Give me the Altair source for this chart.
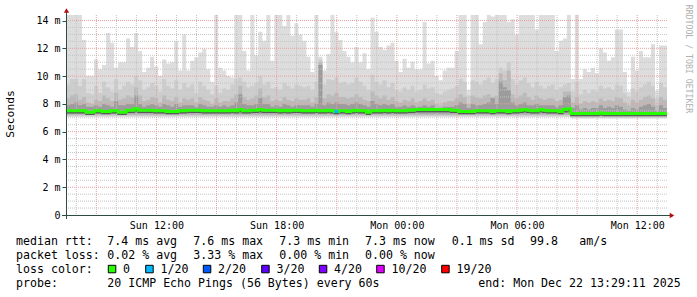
import altair as alt
import pandas as pd

# ---------------- data ----------------
STEP_H = 0.2  # hours per column (12 minutes)
# top of the lightest smoke (max ping) per column, ms
top = [14.4, 14.4, 14.4, 14.4, 12.6, 10.0, 10.0, 11.2, 10.5, 10.8,
       13.1, 12.4, 10.6, 11.0, 11.0, 12.7, 12.1, 13.1, 11.8, 10.3,
       10.6, 11.4, 10.7, 10.0, 11.2, 10.9, 11.0, 12.55, 10.4, 13.0,
       10.4, 11.1, 11.35, 11.7, 11.95, 10.5, 9.6, 14.4, 10.6, 10.4,
       10.0, 9.9, 14.4, 14.4, 11.8, 10.4, 14.4, 11.5, 13.2, 12.55,
       14.4, 11.1, 14.4, 14.4, 13.6, 14.4, 12.9, 13.8, 13.0, 12.55,
       11.4, 10.3, 14.4, 11.4, 10.4, 11.6, 14.4, 13.15, 12.6, 11.8,
       11.4, 11.0, 12.1, 11.0, 11.65, 10.5, 14.2, 13.2, 12.1, 11.9,
       12.2, 12.4, 11.1, 10.3, 11.25, 10.6, 11.05, 10.5, 10.5, 13.9,
       10.9, 11.1, 10.0, 9.7, 10.4, 10.6, 10.6, 11.8, 14.4, 14.4,
       9.0, 14.4, 14.4, 12.3, 13.9, 14.4, 14.3, 14.4, 14.4, 14.4,
       13.9, 14.1, 13.0, 14.4, 14.4, 14.4, 14.4, 13.35, 14.4, 14.4,
       14.4, 14.4, 11.8, 12.55, 12.7, 14.4, 9.8, 14.4, 9.8, 10.5,
       10.3, 10.6, 10.2, 12.0, 11.7, 11.1, 11.35, 13.35, 13.35, 10.3,
       8.9, 11.4, 10.4, 11.8, 11.35, 11.35, 12.3, 8.95, 12.2, 12.2]
# second smoke band
mid = [9.4, 9.8, 9.8, 9.3, 9.8, 8.8, 8.7, 9.3, 8.8, 9.6,
       9.2, 8.9, 9.8, 9.0, 9.3, 9.6, 9.4, 10.0, 9.7, 9.0,
       9.2, 9.5, 9.3, 8.9, 9.8, 9.3, 9.1, 9.7, 9.0, 9.5,
       9.2, 9.4, 8.8, 9.6, 9.3, 9.0, 8.7, 9.3, 8.8, 9.1,
       9.0, 9.4, 9.8, 9.9, 9.6, 9.2, 9.3, 9.5, 10.0, 9.4,
       9.6, 9.1, 9.2, 9.0, 9.5, 9.3, 9.1, 9.4, 9.3, 9.2,
       9.3, 9.0, 9.6, 11.2, 9.4, 9.8, 9.7, 9.9, 9.5, 9.6,
       9.4, 9.5, 9.9, 9.6, 9.3, 9.0, 10.1, 9.6, 9.4, 9.7,
       9.2, 9.5, 9.0, 8.9, 9.2, 9.0, 9.3, 8.9, 9.0, 9.4,
       9.1, 9.2, 8.8, 8.7, 8.9, 9.0, 9.1, 9.3, 9.8, 9.6,
       8.6, 9.7, 9.6, 9.4, 9.7, 9.9, 9.5, 9.8, 10.6, 10.4,
       11.0, 9.8, 9.4, 9.7, 9.9, 9.5, 9.2, 9.6, 9.3, 9.1,
       9.3, 9.4, 9.0, 9.2, 9.4, 9.5, 8.9, 9.6, 8.7, 9.0,
       8.8, 9.0, 8.9, 9.3, 9.1, 9.2, 9.0, 9.4, 9.3, 8.8,
       8.5, 9.1, 8.9, 9.2, 9.4, 9.6, 9.3, 8.4, 9.5, 9.2]
# third smoke band
mid2 = [8.4, 8.6, 8.7, 8.3, 8.5, 8.1, 8.0, 8.3, 8.2, 8.6,
        8.4, 8.2, 8.8, 8.3, 8.4, 8.6, 8.5, 9.2, 8.6, 8.2,
        8.3, 8.5, 8.4, 8.1, 8.6, 8.3, 8.2, 8.5, 8.1, 8.4,
        8.3, 8.4, 8.1, 8.5, 8.3, 8.2, 8.0, 8.4, 8.1, 8.2,
        8.2, 8.4, 8.7, 9.3, 8.5, 8.3, 8.4, 8.6, 9.1, 8.5,
        8.6, 8.2, 8.3, 8.2, 8.5, 8.3, 8.2, 8.4, 8.3, 8.3,
        8.4, 8.1, 8.5, 11.0, 8.4, 8.7, 8.6, 8.8, 8.5, 8.5,
        8.4, 8.5, 8.7, 8.5, 8.3, 8.2, 8.9, 8.6, 8.4, 8.6,
        8.3, 8.5, 8.2, 8.1, 8.3, 8.2, 8.4, 8.1, 8.2, 8.4,
        8.2, 8.3, 8.0, 7.9, 8.1, 8.2, 8.2, 8.4, 8.7, 8.5,
        8.0, 8.6, 8.5, 8.4, 8.6, 8.7, 8.5, 8.6, 10.2, 9.7,
        10.4, 8.7, 8.4, 8.6, 8.8, 8.5, 8.3, 8.6, 8.4, 8.3,
        8.4, 8.4, 8.2, 8.3, 8.9, 8.9, 8.1, 8.5, 8.0, 8.2,
        8.1, 8.2, 8.1, 8.4, 8.2, 8.3, 8.2, 8.5, 8.4, 8.1,
        7.9, 8.3, 8.1, 8.3, 8.5, 8.6, 8.4, 7.9, 8.5, 8.3]
# darkest smoke band
dark = [7.9, 8.0, 8.1, 7.9, 8.0, 7.8, 7.8, 7.9, 7.8, 8.0,
        7.9, 7.8, 8.2, 7.9, 7.9, 8.0, 8.0, 8.6, 8.0, 7.8,
        7.9, 8.0, 7.9, 7.8, 8.0, 7.9, 7.8, 8.0, 7.8, 7.9,
        7.9, 7.9, 7.8, 8.0, 7.9, 7.8, 7.8, 7.9, 7.8, 7.9,
        7.8, 7.9, 8.1, 8.7, 8.0, 7.9, 7.9, 8.0, 8.4, 8.0,
        8.0, 7.8, 7.9, 7.8, 8.0, 7.9, 7.8, 7.9, 7.9, 7.9,
        7.9, 7.8, 8.0, 10.8, 7.9, 8.1, 8.0, 8.1, 8.0, 8.0,
        7.9, 8.0, 8.1, 8.0, 7.9, 7.8, 8.2, 8.0, 7.9, 8.0,
        7.9, 8.0, 7.8, 7.8, 7.9, 7.8, 7.9, 7.8, 7.8, 7.9,
        7.8, 7.9, 7.7, 7.7, 7.8, 7.8, 7.8, 7.9, 8.1, 8.0,
        7.7, 8.0, 7.9, 7.9, 8.0, 8.1, 8.4, 8.0, 9.6, 9.2,
        9.0, 8.1, 7.9, 8.0, 8.1, 7.9, 7.9, 8.0, 7.9, 7.9,
        7.9, 7.9, 7.8, 7.9, 8.5, 8.6, 7.7, 7.9, 7.6, 7.7,
        7.6, 7.7, 7.7, 7.9, 7.7, 7.8, 7.7, 7.9, 7.8, 7.6,
        7.5, 7.7, 7.6, 7.8, 7.9, 8.0, 7.8, 7.5, 7.9, 7.7]
# bottoms of the smoke bands
low1 = [7.05] * 126 + [6.95] * 24
low2 = [7.12] * 126 + [7.02] * 24
low3 = [7.2] * 126 + [7.1] * 24
low4 = [7.3] * 126 + [7.18] * 24
# median rtt per column, ms
median = [7.5, 7.5, 7.5, 7.5, 7.5, 7.4, 7.4, 7.5, 7.5, 7.45,
          7.45, 7.5, 7.5, 7.4, 7.4, 7.55, 7.55, 7.65, 7.55, 7.55,
          7.55, 7.55, 7.5, 7.5, 7.5, 7.45, 7.45, 7.45, 7.5, 7.5,
          7.55, 7.55, 7.55, 7.55, 7.5, 7.5, 7.5, 7.5, 7.5, 7.5,
          7.5, 7.55, 7.5, 7.6, 7.5, 7.5, 7.55, 7.55, 7.6, 7.55,
          7.55, 7.55, 7.55, 7.5, 7.55, 7.5, 7.55, 7.55, 7.55, 7.5,
          7.5, 7.5, 7.55, 7.5, 7.5, 7.55, 7.5, 7.45, 7.5, 7.5,
          7.45, 7.5, 7.55, 7.5, 7.5, 7.4, 7.5, 7.5, 7.5, 7.55,
          7.5, 7.55, 7.5, 7.5, 7.5, 7.55, 7.55, 7.6, 7.6, 7.6,
          7.6, 7.6, 7.6, 7.6, 7.6, 7.6, 7.55, 7.55, 7.45, 7.45,
          7.45, 7.45, 7.5, 7.5, 7.5, 7.5, 7.45, 7.5, 7.5, 7.5,
          7.45, 7.5, 7.5, 7.55, 7.6, 7.55, 7.5, 7.5, 7.6, 7.55,
          7.5, 7.5, 7.5, 7.45, 7.6, 7.65, 7.3, 7.3, 7.3, 7.3,
          7.3, 7.3, 7.3, 7.35, 7.3, 7.3, 7.3, 7.3, 7.3, 7.3,
          7.3, 7.3, 7.3, 7.3, 7.3, 7.3, 7.3, 7.3, 7.3, 7.3]
# lost pings (of 20) per column
loss = [0] * 67 + [1] + [0] * 82

loss_steps = [0, 1, 2, 3, 4, 10, 19]
loss_labels = ["0", "1/20", "2/20", "3/20", "4/20", "10/20", "19/20"]
loss_colors = ["#26ff00", "#00b8ff", "#0059ff", "#5e00ff", "#7e00ff", "#dd00ff", "#ff0000"]

# time axis: 30 hours ending Mon 13:29:11, start Sun 07:29:11
SPAN_H = 30.0
FIRST_FULL_HOUR = (60 - 29 - 11 / 60) / 60   # offset of 08:00
FIRST_CLOCK_HOUR = 8
time_labels = ["Sun 12:00", "Sun 18:00", "Mon 00:00", "Mon 06:00", "Mon 12:00"]
time_label_clock = [12, 18, 24, 30, 36]
y_ticks = [0, 2, 4, 6, 8, 10, 12, 14]
Y_MAX = 14.4

line1 = [(16, "median rtt:"), (107.3, "7.4 ms avg"), (193.3, "7.6 ms max"), (279.3, "7.3 ms min"),
         (365, "7.3 ms now"), (451.7, "0.1 ms sd"), (530, "99.8"), (579.3, "am/s")]
line2 = [(16, "packet loss:"), (107.3, "0.02 % avg"), (193.3, "3.33 % max"), (279.3, "0.00 % min"),
         (365, "0.00 % now")]
line3 = [(16, "loss color:")]
line4 = [(16, "probe:"), (107.3, "20 ICMP Echo Pings (56 Bytes) every 60s"),
         (478.3, "end: Mon Dec 22 13:29:11 2025")]
legend_square_x = [108.3, 145.7, 203.3, 261.7, 319.3, 376.7, 441.7]

# ---------------- layout ----------------
PAD = {"left": 66, "top": 15, "right": 30, "bottom": 82}
W, H = 697 - PAD["left"] - PAD["right"], 297 - PAD["top"] - PAD["bottom"]
MONO = "DejaVu Sans Mono"
AXIS_COL = "#2c4d43"
GRID_MINOR = "#c4c4c4"
GRID_MAJOR = "#e8a0a0"


def px(x):
    return x - PAD["left"]


def py(y):
    return y - PAD["top"]


n = len(top)
t = [i * STEP_H for i in range(n)]
smoke = pd.DataFrame({
    "t": t + [SPAN_H],
    "top": top + [top[-1]], "mid": mid + [mid[-1]], "mid2": mid2 + [mid2[-1]],
    "dark": dark + [dark[-1]], "median": median + [median[-1]],
    "low1": low1 + [low1[-1]], "low2": low2 + [low2[-1]],
    "low3": low3 + [low3[-1]], "low4": low4 + [low4[-1]],
})


def loss_color(k):
    c = loss_colors[0]
    for s, col in zip(loss_steps, loss_colors):
        if k >= s:
            c = col
    return c


cols = pd.DataFrame({"t0": t, "t1": [v + STEP_H for v in t], "median": median,
                     "loss": loss, "lc": [loss_color(k) for k in loss]})

xs = alt.Scale(domain=[0, SPAN_H], nice=False, zero=False)
ys = alt.Scale(domain=[0, Y_MAX], nice=False, zero=True)

label_hours = [FIRST_FULL_HOUR + (c - FIRST_CLOCK_HOUR) for c in time_label_clock]
lab_expr = "[" + ",".join("'%s'" % s for s in time_labels) + "][round((datum.value - %f) / 6)]" % label_hours[0]
x_axis = alt.Axis(values=label_hours, labelExpr=lab_expr, domain=False, ticks=False, grid=False,
                  labelFont=MONO, labelFontSize=10, labelColor="#000", labelPadding=5,
                  labelOverlap=False, labelFlush=False, title=None)
y_axis = alt.Axis(values=y_ticks,
                  labelExpr="datum.value == 0 ? '0\u00a0\u00a0' : datum.value + '\u00a0m'",
                  domain=False, ticks=True, tickSize=4, tickColor=AXIS_COL, grid=False,
                  labelFont=MONO, labelFontSize=10, labelColor="#000", labelPadding=2, title=None)


def X(field):
    return alt.X(field, scale=xs, axis=x_axis)


def Y(field):
    return alt.Y(field, scale=ys, axis=y_axis)


def band(lo, hi, color):
    return alt.Chart(smoke).mark_area(interpolate="step-after", color=color, opacity=1).encode(
        x=X("t:Q"), y=Y(f"{hi}:Q"), y2=f"{lo}:Q")


layers = [
    band("low1", "top", "#dddddd"),
    band("low2", "mid", "#cdcdcd"),
    band("low3", "mid2", "#bababa"),
    band("low4", "dark", "#9c9c9c"),
]

# grid
hours = [FIRST_FULL_HOUR + k for k in range(int(SPAN_H)) if FIRST_FULL_HOUR + k < SPAN_H]
clock = [(FIRST_CLOCK_HOUR + k) for k in range(len(hours))]
vminor = pd.DataFrame({"h": [h for h, c in zip(hours, clock) if c % 3 != 0]})
vmajor = pd.DataFrame({"h": [h for h, c in zip(hours, clock) if c % 3 == 0]})
hvals = [k * 0.5 for k in range(1, int(Y_MAX / 0.5) + 1)]
hminor = pd.DataFrame({"v": [v for v in hvals if v % 2 != 0]})
hmajor = pd.DataFrame({"v": [v for v in hvals if v % 2 == 0]})


def vgrid(df, color):
    return alt.Chart(df).mark_rule(color=color, strokeDash=[1, 1], strokeWidth=1).encode(
        x=X("h:Q"), y=alt.value(0), y2=alt.value(H))


def hgrid(df, color):
    return alt.Chart(df).mark_rule(color=color, strokeDash=[1, 1], strokeWidth=1).encode(
        y=Y("v:Q"), x=alt.value(0), x2=alt.value(W))


layers += [vgrid(vminor, GRID_MINOR), hgrid(hminor, GRID_MINOR),
           vgrid(vmajor, GRID_MAJOR), hgrid(hmajor, GRID_MAJOR)]

# median line: dark shadow, green line, loss-coloured segments
layers.append(alt.Chart(smoke).mark_line(interpolate="step-after", color="#5a5a5a", strokeWidth=1.5,
                                         yOffset=2).encode(x=X("t:Q"), y=Y("median:Q")))
layers.append(alt.Chart(smoke).mark_line(interpolate="step-after", color=loss_colors[0], strokeWidth=3).encode(
    x=X("t:Q"), y=Y("median:Q")))
layers.append(alt.Chart(cols).transform_filter("datum.loss > 0").mark_rule(strokeWidth=3, strokeCap="butt").encode(
    x=X("t0:Q"), x2="t1:Q", y=Y("median:Q"), color=alt.Color("lc:N", scale=None)))

one = pd.DataFrame({"k": [0]})
# axis lines and arrows
layers.append(alt.Chart(one).mark_rule(color=AXIS_COL, strokeWidth=1).encode(
    x=alt.value(0.5), y=alt.value(py(12)), y2=alt.value(H + 4)))
layers.append(alt.Chart(one).mark_rule(color=AXIS_COL, strokeWidth=1).encode(
    x=alt.value(-4), x2=alt.value(px(670)), y=alt.value(H + 0.5)))
layers.append(alt.Chart(one).mark_point(shape="triangle-up", filled=True, size=28, color="#b01010", opacity=1).encode(
    x=alt.value(0.5), y=alt.value(py(10.5))))
layers.append(alt.Chart(one).mark_point(shape="triangle-right", filled=True, size=28, color="#b01010", opacity=1).encode(
    x=alt.value(px(672)), y=alt.value(H + 0.5)))


def text(x, y, s, size=11.6, **kw):
    return alt.Chart(one).mark_text(text=s, font=MONO, fontSize=size, align=kw.pop("align", "left"),
                                    baseline=kw.pop("baseline", "alphabetic"), color=kw.pop("color", "#000"),
                                    **kw).encode(x=alt.value(px(x)), y=alt.value(py(y)))


for (lx, s) in line1:
    layers.append(text(lx, 245, s))
for (lx, s) in line2:
    layers.append(text(lx, 259, s))
for (lx, s) in line3:
    layers.append(text(lx, 273, s))
for (lx, s) in line4:
    layers.append(text(lx, 287, s))

for sx, lab, col in zip(legend_square_x, loss_labels, loss_colors):
    layers.append(alt.Chart(one).mark_rect(fill=col, stroke="#000", strokeWidth=1).encode(
        x=alt.value(px(sx)), x2=alt.value(px(sx) + 7.5), y=alt.value(py(265.3)), y2=alt.value(py(272.8))))
    layers.append(text(sx + 14.8, 273, lab))

layers.append(text(11, 114, "Seconds", size=11.3, angle=270, align="center", baseline="middle"))
layers.append(text(688, 59, "RRDTOOL / TOBI OETIKER", size=8.2, angle=90, align="center",
                   baseline="middle", color="#b0b0b0"))

chart = alt.layer(*layers).properties(
    width=W, height=H, padding=PAD, autosize=alt.AutoSizeParams(type="none"), background="white"
).configure_view(stroke=None)

chart.save("out.html", embed_options={"renderer": "svg", "actions": False})
